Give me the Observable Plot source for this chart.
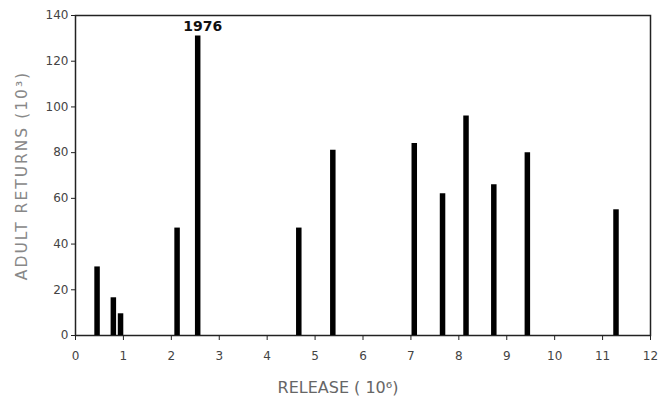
<!DOCTYPE html>
<html><head><meta charset="utf-8">
<script src="https://cdn.jsdelivr.net/npm/d3@7"></script>
<script src="https://cdn.jsdelivr.net/npm/@observablehq/plot@0.6"></script>
<style>
body{margin:0;background:#fff;}
#chart svg{font-family:"DejaVu Sans",sans-serif;}
g[aria-label="y-axis label"] text{fill:#888;font-size:15.5px;letter-spacing:2px;}
</style>
</head><body><div id="chart"></div>
<script>
// Release (millions) and adult returns (thousands)
const release = [0.45, 0.79, 0.94, 2.12, 2.55, 4.66, 5.37, 7.07, 7.66, 8.15, 8.73, 9.43, 11.28];
const returns = [30, 16.5, 9.5, 47, 131, 47, 81, 84, 62, 96, 66, 80, 55];
const yearLabel = ["", "", "", "", "1976", "", "", "", "", "", "", "", ""];
const xTicks = [0,1,2,3,4,5,6,7,8,9,10,11,12];
const yTicks = [0,20,40,60,80,100,120,140];
const xTitle = "RELEASE ( 10\u2076)";
const yTitle = "ADULT RETURNS (10\u00B3)";

const data = release.map((r, i) => ({release: r, returns: returns[i], label: yearLabel[i]}));

const chart = Plot.plot({
  width: 661,
  height: 396,
  marginLeft: 75,
  marginRight: 11,
  marginTop: 15,
  marginBottom: 61,
  x: {domain: [0, 12]},
  y: {domain: [0, 140]},
  style: {fontSize: "12px", color: "#333", background: "#fff"},
  marks: [
    Plot.frame({stroke: "#222", strokeWidth: 1.5}),
    Plot.axisX({ticks: xTicks, tickSize: 5, tickPadding: 11, label: null, fontSize: 12, stroke: "#222", fill: "#444"}),
    Plot.axisY({ticks: yTicks, tickSize: 4, tickPadding: 3, label: yTitle, labelAnchor: "center", labelOffset: 60, labelArrow: "none", fontSize: 12, stroke: "#222", fill: "#444"}),
    Plot.ruleX(data, {x: "release", y1: 0, y2: "returns", stroke: "#000", strokeWidth: 5.5}),
    Plot.text(data.filter(d => d.label), {x: "release", y: "returns", text: "label", dy: -10, dx: 5, fontSize: 14, fontWeight: "bold", fill: "#111"}),
    Plot.text([xTitle], {frameAnchor: "bottom", dy: 57, dx: -25, fontSize: 16, fill: "#666", style: "letter-spacing:1.5px"})
  ]
});
document.getElementById("chart").append(chart);
</script>
</body></html>
